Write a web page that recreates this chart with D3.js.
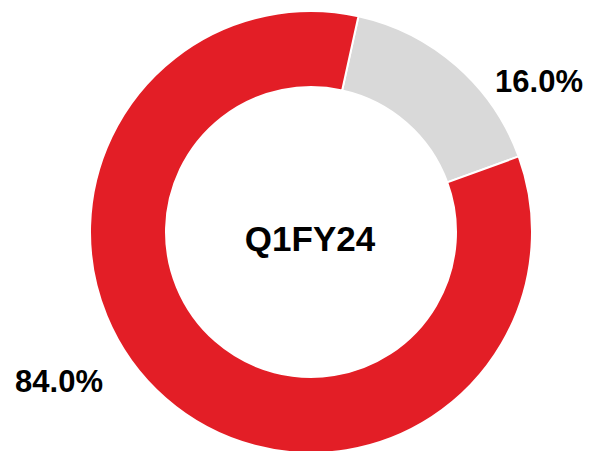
<!DOCTYPE html>
<html>
<head>
<meta charset="utf-8">
<script src="https://cdn.jsdelivr.net/npm/d3@7"></script>
<style>
  body { margin: 0; background: #fff; }
  text { font-family: "Liberation Sans", Arial, sans-serif; font-weight: bold; fill: #000; }
</style>
</head>
<body>
<svg id="chart"></svg>
<script>
var categories = ["Other", "Main"],
    values = [16.0, 84.0],
    labels = ["16.0%", "84.0%"],
    centerLabel = "Q1FY24";

var width = 590, height = 451,
    cx = 311, cy = 232,
    outerR = 221, innerR = 145;

var color = d3.scaleOrdinal()
    .domain(categories)
    .range(["#d9d9d9", "#e31e26"]);

var svg = d3.select("#chart")
    .attr("width", width)
    .attr("height", height);

var g = svg.append("g")
    .attr("transform", "translate(" + cx + "," + cy + ")");

var startA = 12.4 * Math.PI / 180;

var pie = d3.pie()
    .sort(null)
    .startAngle(startA)
    .endAngle(startA + 2 * Math.PI)
    .value(function(d) { return d; });

var arc = d3.arc()
    .innerRadius(innerR)
    .outerRadius(outerR);

var arcs = pie(values);

g.selectAll(".slice")
    .data(arcs)
  .enter().append("path")
    .attr("class", "slice")
    .attr("d", arc)
    .style("fill", function(d, i) { return color(categories[i]); })
    .style("stroke", "#fff")
    .style("stroke-width", 2);

// labels sit outside the ring
var labelPos = [[228, -140], [-252, 160]];

g.selectAll(".lbl")
    .data(labels)
  .enter().append("text")
    .attr("class", "lbl")
    .attr("x", function(d, i) { return labelPos[i][0]; })
    .attr("y", function(d, i) { return labelPos[i][1]; })
    .attr("text-anchor", "middle")
    .style("font-size", "31px")
    .text(function(d) { return d; });

g.append("text")
    .attr("x", -1)
    .attr("y", 19)
    .attr("text-anchor", "middle")
    .style("font-size", "35px")
    .text(centerLabel);
</script>
</body>
</html>
